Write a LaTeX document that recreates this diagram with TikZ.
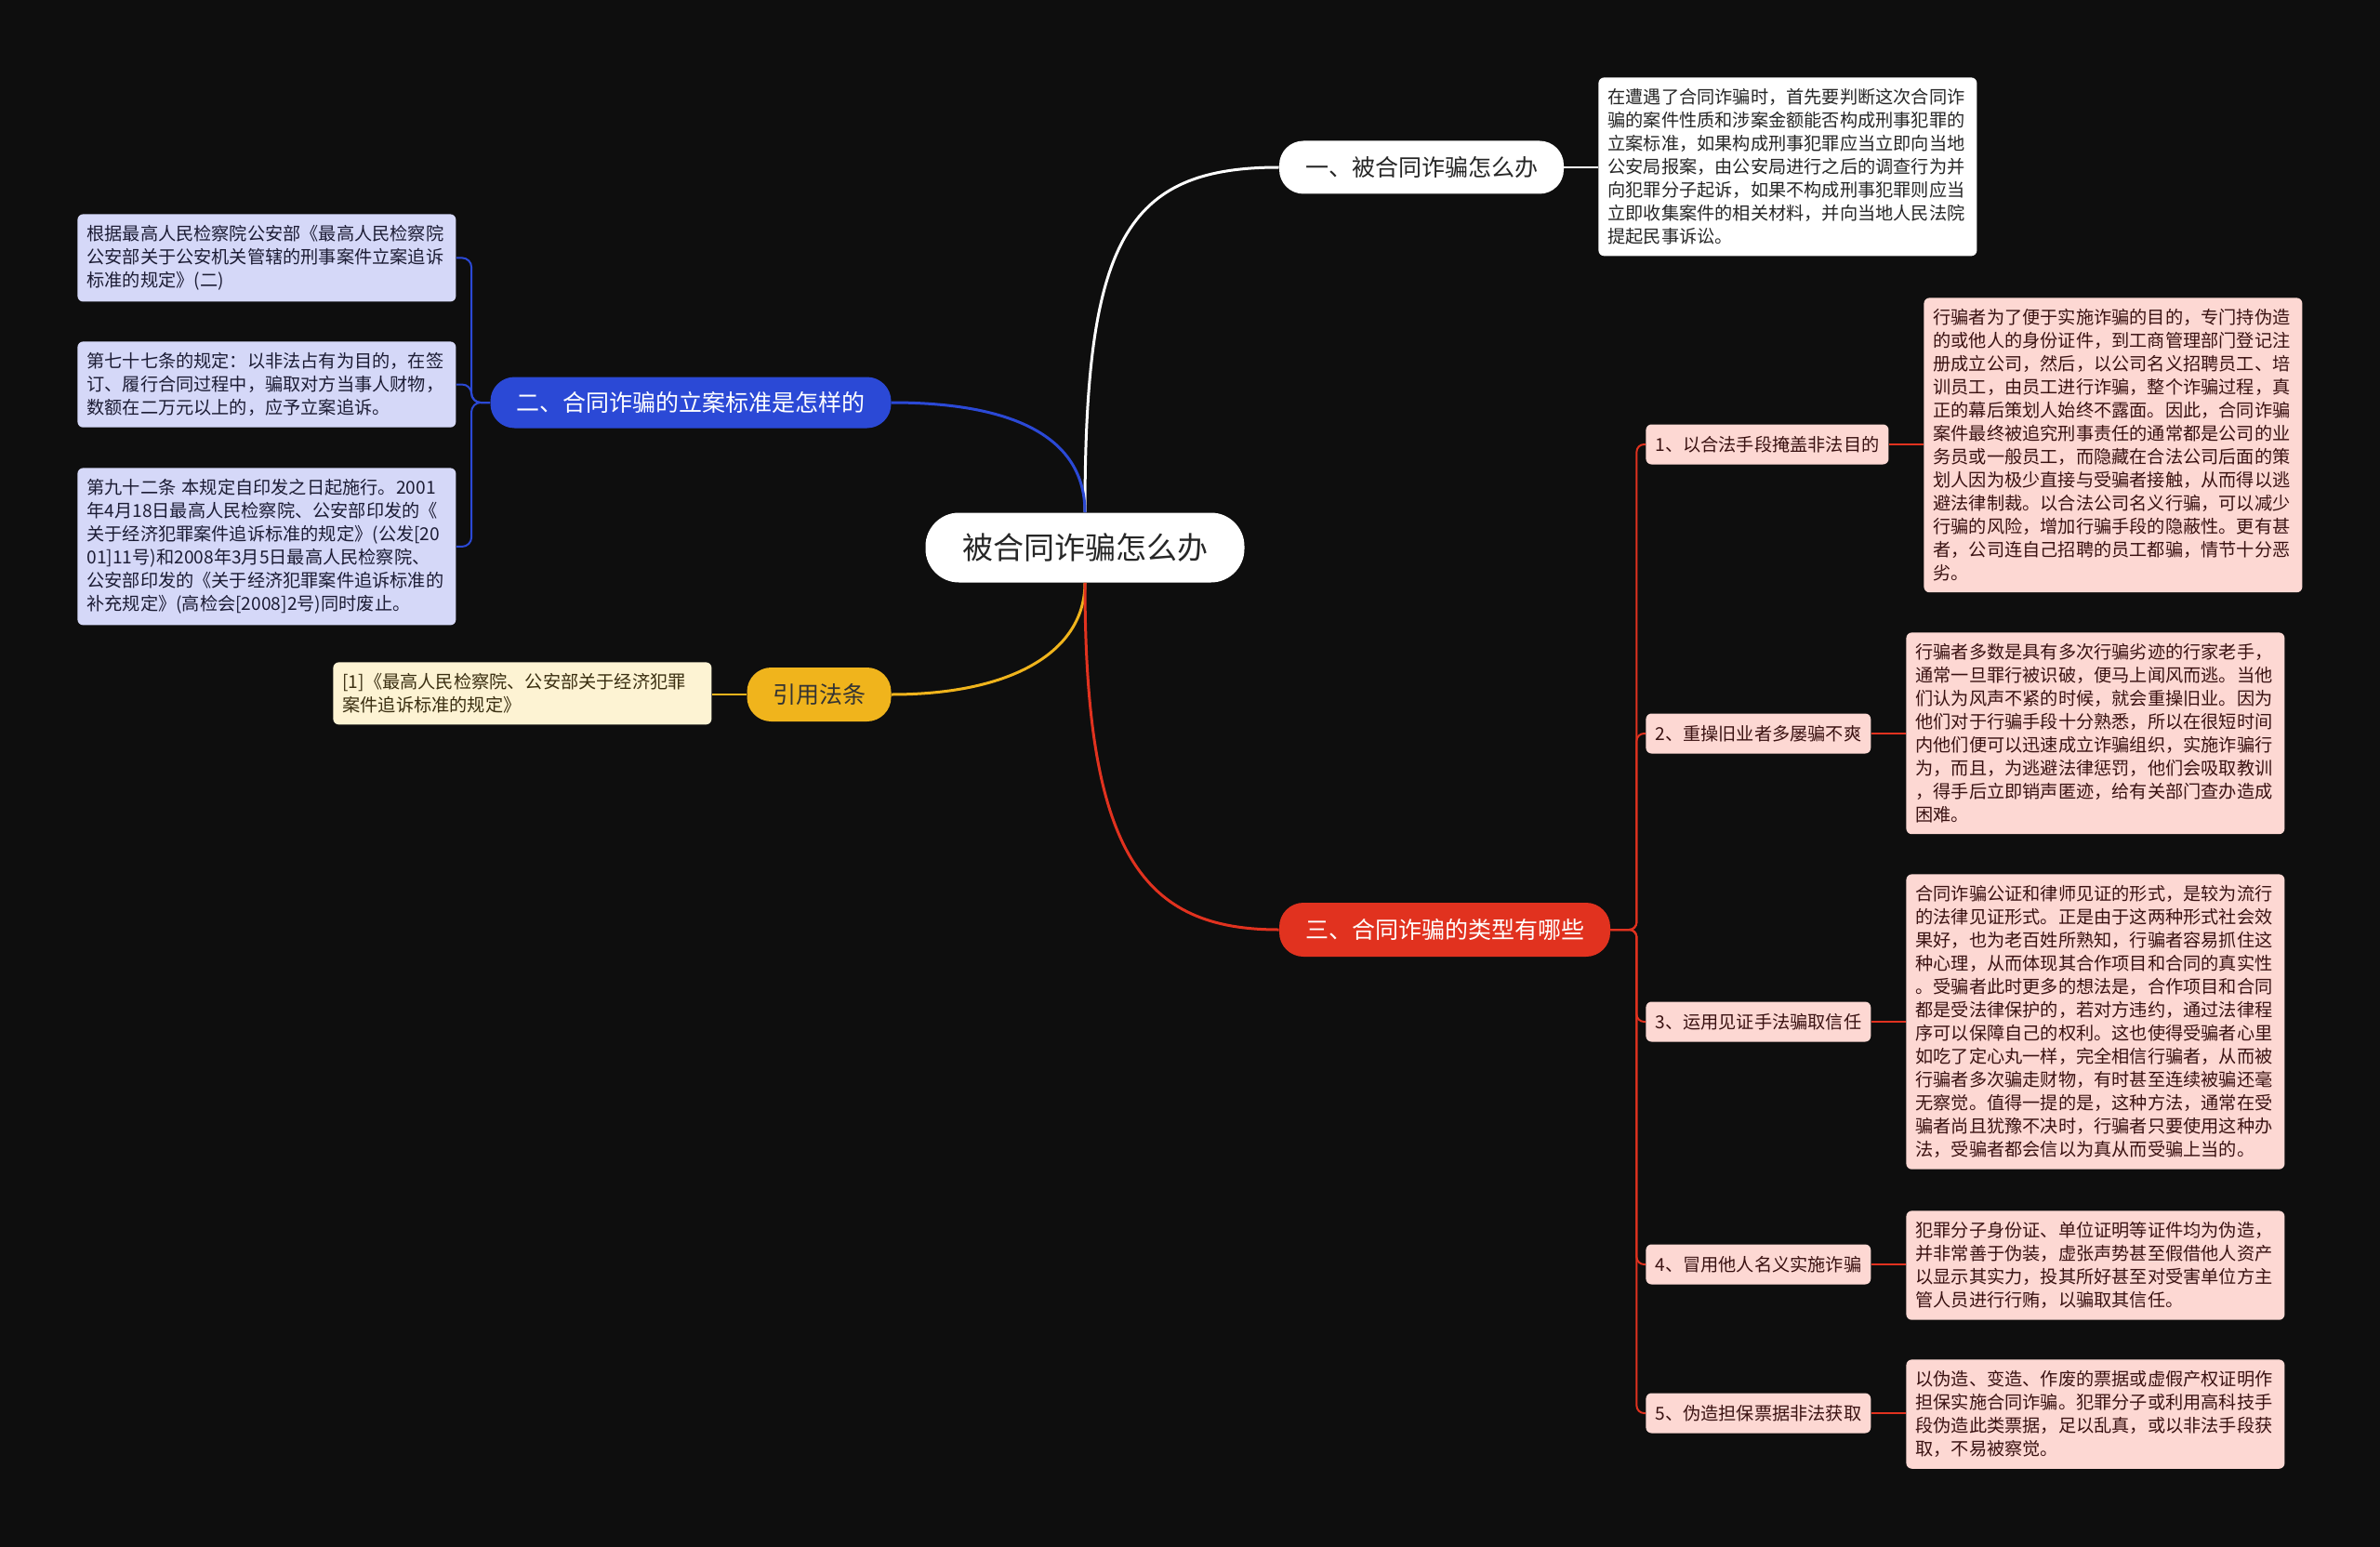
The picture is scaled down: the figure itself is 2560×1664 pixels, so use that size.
\documentclass[tikz,border=0pt]{standalone}
\usepackage{fontspec}
\setmainfont{Noto Sans CJK SC}
\definecolor{bgc}{HTML}{0E0E0E}
\definecolor{bluec}{HTML}{2B49D6}
\definecolor{lavc}{HTML}{D5D8F8}
\definecolor{lavt}{HTML}{1C1C34}
\definecolor{yelc}{HTML}{F0B41C}
\definecolor{creamc}{HTML}{FDF3D3}
\definecolor{creamt}{HTML}{3A2E10}
\definecolor{redc}{HTML}{E1321F}
\definecolor{pinkc}{HTML}{FDD8D3}
\definecolor{pinkt}{HTML}{3A1212}
\begin{document}
\begin{tikzpicture}[x=0.5pt,y=-0.5pt,
    pill/.style={rounded corners=13pt,inner sep=0pt,font=\fontsize{12.5}{15}\selectfont},
    leaf/.style={anchor=north west,rounded corners=3pt,inner xsep=5pt,inner ysep=6pt,text width=193.5pt,align=left,font=\fontsize{9.6}{12.5}\selectfont},
    item/.style={anchor=west,fill=pinkc,text=pinkt,rounded corners=3pt,inner xsep=5pt,inner ysep=0pt,minimum height=21.5pt,font=\fontsize{9.6}{12.5}\selectfont},
    trunk/.style={line width=1.5pt},
    twig/.style={line width=1pt,rounded corners=5pt}]
  \useasboundingbox (0,0) rectangle (2560,1664);
  \fill[bgc] (0,0) rectangle (2560,1664);
  \node[pill,fill=white,text=black!85,minimum width=171.5pt,minimum height=37.5pt,rounded corners=18pt,font=\fontsize{16.5}{20}\selectfont] (root) at (1167,589) {被合同诈骗怎么办};
  \node[pill,fill=white,text=black!85,minimum width=153pt,minimum height=28.5pt] (b1) at (1529,180) {一、被合同诈骗怎么办};
  \node[pill,fill=bluec,text=white,minimum width=215.5pt,minimum height=27.5pt] (b2) at (743,433) {二、合同诈骗的立案标准是怎样的};
  \node[pill,fill=yelc,text=black!80,minimum width=77.5pt,minimum height=29pt] (bref) at (881,747) {引用法条};
  \node[pill,fill=redc,text=white,minimum width=178pt,minimum height=29pt] (b3) at (1554,1000) {三、合同诈骗的类型有哪些};
  \node[leaf,fill=white,text=black!85] (w1) at (1719,83) {在遭遇了合同诈骗时，首先要判断这次合同诈\\骗的案件性质和涉案金额能否构成刑事犯罪的\\立案标准，如果构成刑事犯罪应当立即向当地\\公安局报案，由公安局进行之后的调查行为并\\向犯罪分子起诉，如果不构成刑事犯罪则应当\\立即收集案件的相关材料，并向当地人民法院\\提起民事诉讼。};
  \node[leaf,fill=lavc,text=lavt] (l1) at (83,230) {根据最高人民检察院公安部《最高人民检察院\\公安部关于公安机关管辖的刑事案件立案追诉\\标准的规定》(二)};
  \node[leaf,fill=lavc,text=lavt] (l2) at (83,367) {第七十七条的规定：以非法占有为目的，在签\\订、履行合同过程中，骗取对方当事人财物，\\数额在二万元以上的，应予立案追诉。};
  \node[leaf,fill=lavc,text=lavt] (l3) at (83,503) {第九十二条 本规定自印发之日起施行。2001\\年4月18日最高人民检察院、公安部印发的《\\关于经济犯罪案件追诉标准的规定》(公发[20\\01]11号)和2008年3月5日最高人民检察院、\\公安部印发的《关于经济犯罪案件追诉标准的\\补充规定》(高检会[2008]2号)同时废止。};
  \node[leaf,fill=creamc,text=creamt] (y1) at (358,712) {[1]《最高人民检察院、公安部关于经济犯罪\\案件追诉标准的规定》};
  \node[item] (r1) at (1770,478) {1、以合法手段掩盖非法目的};
  \node[item] (r2) at (1770,789) {2、重操旧业者多屡骗不爽};
  \node[item] (r3) at (1770,1099) {3、运用见证手法骗取信任};
  \node[item] (r4) at (1770,1360) {4、冒用他人名义实施诈骗};
  \node[item] (r5) at (1770,1520) {5、伪造担保票据非法获取};
  \node[leaf,fill=pinkc,text=pinkt] (d1) at (2069,320) {行骗者为了便于实施诈骗的目的，专门持伪造\\的或他人的身份证件，到工商管理部门登记注\\册成立公司，然后，以公司名义招聘员工、培\\训员工，由员工进行诈骗，整个诈骗过程，真\\正的幕后策划人始终不露面。因此，合同诈骗\\案件最终被追究刑事责任的通常都是公司的业\\务员或一般员工，而隐藏在合法公司后面的策\\划人因为极少直接与受骗者接触，从而得以逃\\避法律制裁。以合法公司名义行骗，可以减少\\行骗的风险，增加行骗手段的隐蔽性。更有甚\\者，公司连自己招聘的员工都骗，情节十分恶\\劣。};
  \node[leaf,fill=pinkc,text=pinkt] (d2) at (2050,680) {行骗者多数是具有多次行骗劣迹的行家老手，\\通常一旦罪行被识破，便马上闻风而逃。当他\\们认为风声不紧的时候，就会重操旧业。因为\\他们对于行骗手段十分熟悉，所以在很短时间\\内他们便可以迅速成立诈骗组织，实施诈骗行\\为，而且，为逃避法律惩罚，他们会吸取教训\\，得手后立即销声匿迹，给有关部门查办造成\\困难。};
  \node[leaf,fill=pinkc,text=pinkt] (d3) at (2050,940) {合同诈骗公证和律师见证的形式，是较为流行\\的法律见证形式。正是由于这两种形式社会效\\果好，也为老百姓所熟知，行骗者容易抓住这\\种心理，从而体现其合作项目和合同的真实性\\。受骗者此时更多的想法是，合作项目和合同\\都是受法律保护的，若对方违约，通过法律程\\序可以保障自己的权利。这也使得受骗者心里\\如吃了定心丸一样，完全相信行骗者，从而被\\行骗者多次骗走财物，有时甚至连续被骗还毫\\无察觉。值得一提的是，这种方法，通常在受\\骗者尚且犹豫不决时，行骗者只要使用这种办\\法，受骗者都会信以为真从而受骗上当的。};
  \node[leaf,fill=pinkc,text=pinkt] (d4) at (2050,1302) {犯罪分子身份证、单位证明等证件均为伪造，\\并非常善于伪装，虚张声势甚至假借他人资产\\以显示其实力，投其所好甚至对受害单位方主\\管人员进行行贿，以骗取其信任。};
  \node[leaf,fill=pinkc,text=pinkt] (d5) at (2050,1462) {以伪造、变造、作废的票据或虚假产权证明作\\担保实施合同诈骗。犯罪分子或利用高科技手\\段伪造此类票据，足以乱真，或以非法手段获\\取，不易被察觉。};
  \draw[trunk,white] (root.north) .. controls (1167,260) and (1210,180) .. (b1.west);
  \draw[trunk,bluec] (root.north) .. controls (1167,470) and (1090,433) .. (b2.east);
  \draw[trunk,yelc] (root.south) .. controls (1167,700) and (1090,747) .. (bref.east);
  \draw[trunk,redc] (root.south) .. controls (1167,920) and (1230,1000) .. (b3.west);
  \draw[twig,white] (b1.east) -- (w1.west |- b1.east);
  \draw[twig,yelc] (bref.west) -- (y1.east |- bref.west);
  \foreach \n in {l1,l2,l3}
    \draw[twig,bluec] (b2.west) -- ++(-20,0) |- (\n.east);
  \foreach \n in {r1,r2,r3,r4,r5}
    \draw[twig,redc,rounded corners=4pt] (b3.east) -- ++(28,0) |- (\n.west);
  \foreach \n/\m in {r1/d1,r2/d2,r3/d3,r4/d4,r5/d5}
    \draw[twig,redc] (\n.east) -- (\m.west |- \n.east);
\end{tikzpicture}
\end{document}
